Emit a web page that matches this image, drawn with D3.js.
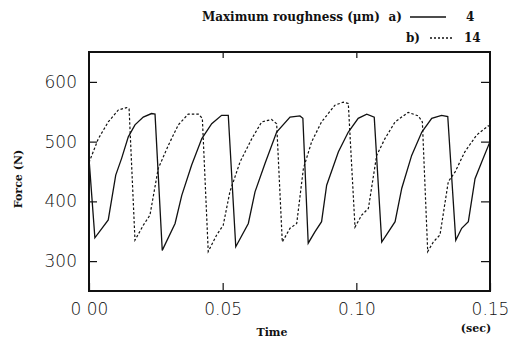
<!DOCTYPE html>
<html>
<head>
<meta charset="utf-8">
<script src="https://cdn.jsdelivr.net/npm/d3@7"></script>
<style>
  body { margin: 0; background: #fff; }
  svg { display: block; }
  .tick text { font-family: "DejaVu Sans", sans-serif; font-size: 17px; font-weight: 300; fill: #111; }
  .lbl { font-family: "DejaVu Serif", serif; font-weight: bold; fill: #111; }
</style>
</head>
<body>
<div id="chart"></div>
<script>
// ---- data ----
var timeA = [0, 0.0022, 0.0072, 0.0100, 0.0122, 0.0147, 0.0172, 0.0203, 0.0234, 0.0247,
  0.0274, 0.0322, 0.0347, 0.0384, 0.0422, 0.0459, 0.0496, 0.0521,
  0.0549, 0.0596, 0.0621, 0.0658, 0.0702, 0.0752, 0.0789, 0.0800,
  0.0820, 0.0845, 0.0870, 0.0889, 0.0933, 0.0970, 0.1007, 0.1039, 0.1067,
  0.1095, 0.1120, 0.1145, 0.1170, 0.1207, 0.1245, 0.1282, 0.1319, 0.1342,
  0.1372, 0.1394, 0.1419, 0.1444, 0.1469, 0.1500];
var forceA = [472, 339, 369, 444, 472, 508, 528, 541, 547, 546,
  318, 363, 410, 461, 505, 530, 544, 544,
  324, 363, 416, 463, 516, 541, 543, 539,
  330, 349, 366, 427, 483, 516, 539, 546, 541,
  332, 349, 366, 422, 477, 516, 539, 544, 542,
  335, 355, 366, 438, 466, 500];

var timeB = [0, 0.0035, 0.0072, 0.0110, 0.0141, 0.0150,
  0.0172, 0.0203, 0.0228, 0.0259, 0.0297, 0.0334, 0.0371, 0.0409, 0.0424,
  0.0446, 0.0478, 0.0502, 0.0527, 0.0565, 0.0609, 0.0646, 0.0683, 0.0702,
  0.0723, 0.0752, 0.0777, 0.0802, 0.0833, 0.0870, 0.0920, 0.0951, 0.0970,
  0.0995, 0.1020, 0.1045, 0.1076, 0.1107, 0.1145, 0.1194, 0.1232, 0.1247,
  0.1267, 0.1288, 0.1313, 0.1344, 0.1369, 0.1406, 0.1450, 0.1492, 0.1500];
var forceB = [465, 505, 533, 553, 557, 555,
  335, 360, 377, 455, 494, 528, 546, 546, 539,
  316, 344, 360, 416, 466, 505, 533, 537, 530,
  332, 355, 363, 455, 500, 533, 561, 566, 564,
  357, 377, 388, 477, 505, 533, 549, 543, 533,
  316, 332, 344, 433, 449, 483, 511, 526, 527];

var xTicks = [0, 0.05, 0.10, 0.15];
var xTickLabels = ["0 00", "0.05", "0.10", "0.15"];
var yTicks = [300, 400, 500, 600];
var legendItems = [
  { key: "a)", value: "4", dash: null },
  { key: "b)", value: "14", dash: "2,2" }
];

// ---- layout ----
var W = 510, H = 340;
var plot = { left: 89, right: 490, top: 52, bottom: 291 };

var svg = d3.select("#chart").append("svg")
  .attr("width", W).attr("height", H);

var x = d3.scaleLinear().domain([0, 0.15]).range([plot.left, plot.right]);
var y = d3.scaleLinear().domain([250, 650]).range([plot.bottom, plot.top]);

// axes (ticks pointing inward)
svg.append("g")
  .attr("transform", "translate(" + plot.left + ",0)")
  .call(d3.axisLeft(y).tickValues(yTicks).tickSizeInner(-8).tickSizeOuter(0).tickPadding(12))
  .call(g => g.select(".domain").remove());
svg.append("g")
  .attr("transform", "translate(" + plot.right + ",0)")
  .call(d3.axisRight(y).tickValues(yTicks).tickSizeInner(-9).tickSizeOuter(0).tickFormat(""))
  .call(g => g.select(".domain").remove());
svg.append("g")
  .attr("transform", "translate(0," + plot.bottom + ")")
  .call(d3.axisBottom(x).tickValues(xTicks).tickSizeInner(-8).tickSizeOuter(0).tickPadding(12)
    .tickFormat((d, i) => xTickLabels[i]))
  .call(g => g.select(".domain").remove());
svg.append("g")
  .attr("transform", "translate(0," + plot.top + ")")
  .call(d3.axisTop(x).tickValues([0.05, 0.10]).tickSizeInner(-6).tickSizeOuter(0).tickFormat(""))
  .call(g => g.select(".domain").remove());
svg.selectAll(".tick line").attr("stroke", "#111").attr("stroke-width", 1.2);

// frame
svg.append("rect")
  .attr("x", plot.left).attr("y", plot.top)
  .attr("width", plot.right - plot.left).attr("height", plot.bottom - plot.top)
  .attr("fill", "none").attr("stroke", "#111").attr("stroke-width", 2);

// lines
var line = d3.line().x(d => x(d[0])).y(d => y(d[1]));
svg.append("path")
  .datum(d3.zip(timeA, forceA))
  .attr("d", line)
  .attr("fill", "none").attr("stroke", "#111").attr("stroke-width", 1.3);
svg.append("path")
  .datum(d3.zip(timeB, forceB))
  .attr("d", line)
  .attr("fill", "none").attr("stroke", "#111").attr("stroke-width", 1.2)
  .attr("stroke-dasharray", "2.5,2");

// axis titles
svg.append("text").attr("class", "lbl")
  .attr("x", 272).attr("y", 336).attr("text-anchor", "middle")
  .style("font-size", "11px").text("Time");
svg.append("text").attr("class", "lbl")
  .attr("x", 476).attr("y", 332).attr("text-anchor", "middle")
  .style("font-size", "11px").text("(sec)");
svg.append("text").attr("class", "lbl")
  .attr("transform", "translate(22,179) rotate(-90)")
  .attr("text-anchor", "middle")
  .style("font-size", "11px").text("Force (N)");

// legend
svg.append("text").attr("class", "lbl")
  .attr("x", 380).attr("y", 21).attr("text-anchor", "end")
  .style("font-size", "12px").text("Maximum roughness (\u03bcm)");
var leg = svg.selectAll(".leg").data(legendItems).join("g")
  .attr("class", "leg")
  .attr("transform", (d, i) => "translate(0," + (21 + i * 21) + ")");
leg.append("text").attr("class", "lbl")
  .attr("x", (d, i) => i === 0 ? 402 : 420).attr("text-anchor", "end")
  .style("font-size", "12px").text(d => d.key);
leg.append("line")
  .attr("x1", (d, i) => i === 0 ? 410 : 430)
  .attr("x2", (d, i) => i === 0 ? 446 : 452)
  .attr("y1", -4).attr("y2", -4)
  .attr("stroke", "#111").attr("stroke-width", 1.3)
  .attr("stroke-dasharray", d => d.dash);
leg.append("text").attr("class", "lbl")
  .attr("x", (d, i) => i === 0 ? 466 : 464)
  .style("font-size", "12px").text(d => d.value);
</script>
</body>
</html>
